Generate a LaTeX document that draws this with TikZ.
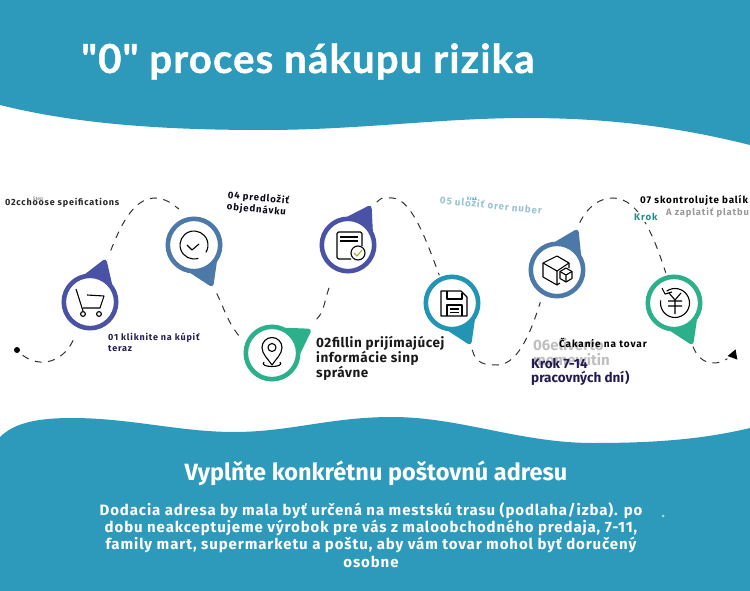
\documentclass[tikz,border=0pt]{standalone}
\usepackage{fontspec}
\setmainfont{Fira Sans}
\newfontfamily\titlefont[LetterSpace=3,BoldFeatures={FakeBold=1}]{Lato}
\newfontfamily\widefont[LetterSpace=9]{Fira Sans}
\newfontfamily\midfont[LetterSpace=4]{Fira Sans}
\newfontfamily\bodyfont[LetterSpace=6]{Fira Sans}
\usetikzlibrary{shapes.geometric}
\definecolor{band}{HTML}{2E9ABB}
\definecolor{pinnavy}{HTML}{4A52A6}
\definecolor{pinsteel}{HTML}{4D79A8}
\definecolor{pingreen}{HTML}{2BB08B}
\definecolor{pinteal}{HTML}{2295B5}
\definecolor{inknavy}{HTML}{241A52}
\definecolor{kroktext}{HTML}{1F8F86}
\begin{document}
\begin{tikzpicture}[x=1pt,y=-1pt,inner sep=0pt,
pin/.style={draw=#1,fill=white,circle,line width=4.6pt,minimum size=52.4pt},
pointer/.style={fill=#1,rounded corners=4pt},
route/.style={draw=black!80,line width=1pt,dash pattern=on 7pt off 6.5pt},
icon/.style={line width=1.1pt,line join=round},
small/.style={font=\widefont\bfseries\fontsize{9}{11.3}\selectfont,align=left,anchor=west,text=inknavy},
big/.style={font=\midfont\bfseries\fontsize{13.5}{15}\selectfont,align=left,anchor=west,text=inknavy}]
\useasboundingbox (0,0) rectangle (750,591);

% bands
\fill[band] (0,0) -- (750,0) -- (750,145) .. controls (670,125) and (600,118) .. (526,118)
  .. controls (440,118) and (360,130) .. (263,130) .. controls (170,130) and (80,125) .. (0,105) -- cycle;
\fill[band] (0,437) .. controls (15,422) and (40,418) .. (72,418) .. controls (130,418) and (180,432) .. (234,432)
  .. controls (290,432) and (330,417) .. (392,417) .. controls (460,417) and (520,443) .. (593,443)
  .. controls (650,443) and (700,440) .. (750,428) -- (750,591) -- (0,591) -- cycle;

\node[font=\titlefont\bfseries\fontsize{40}{42}\selectfont,text=white,anchor=base west] (title) at (81,73) {"0" proces nákupu rizika};
\node[font=\bfseries\fontsize{23.5}{26}\selectfont,text=white] (heading) at (376,473) {Vyplňte konkrétnu poštovnú adresu};
\node[font=\bodyfont\bfseries\fontsize{15}{17.3}\selectfont,text=white,align=center] (body) at (371,535)
 {Dodacia adresa by mala byť určená na mestskú trasu (podlaha/izba). po\\
  dobu neakceptujeme výrobok pre vás z maloobchodného predaja, 7-11,\\
  family mart, supermarketu a poštu, aby vám tovar mohol byť doručený\\
  osobne};
\node[fill=band!40!white,circle,minimum size=3pt] (speck) at (663,516) {};

% pointers go under the rings
\fill[pointer=pinnavy] (90,302) +(-106:27) -- +(-70:47) -- +(-32:27) -- cycle;
\fill[pointer=pinsteel] (194,245) +(30:27) -- +(66:47) -- +(104:27) -- cycle;
\fill[pointer=pinnavy] (348,245) +(-98:27) -- +(-60:47) -- +(-22:27) -- cycle;
\fill[pointer=pingreen] (272,353) +(-70:27) -- +(-31:47) -- +(8:27) -- cycle;
\fill[pointer=pinteal] (452,303) +(30:27) -- +(66:47) -- +(104:27) -- cycle;
\fill[pointer=pinsteel] (557,270) +(-100:27) -- +(-63:47) -- +(-25:27) -- cycle;
\fill[pointer=pingreen] (674,303) +(30:27) -- +(66:47) -- +(104:27) -- cycle;

\node[pin=pinnavy] (cart) at (90,302) {};
\node[pin=pinsteel] (tick) at (194,245) {};
\node[pin=pinnavy] (form) at (348,245) {};
\node[pin=pingreen] (place) at (272,353) {};
\node[pin=pinteal] (disk) at (452,303) {};
\node[pin=pinsteel] (parcel) at (557,270) {};
\node[pin=pingreen] (refund) at (674,303) {};

\node[fill=black,circle,minimum size=6pt] (start) at (17,350) {};
\node[fill=black,regular polygon,regular polygon sides=3,minimum size=12pt,shape border rotate=-20] (finish) at (733.5,355) {};
\coordinate (top1) at (155,198);
\coordinate (top2) at (392,198);
\coordinate (low1) at (497,365);
\coordinate (top3) at (613,198);

% the dashed road
\draw[route,dash phase=9pt,shorten >=11pt] (start) .. controls (35,368) and (62,366) .. (cart);
\draw[route,shorten <=27pt,shorten >=12pt] (cart) .. controls (119,230) and (132,198) .. (top1) .. controls (170,198) and (180,212) .. (tick);
\draw[route,shorten <=25pt,shorten >=6pt] (tick.-65) .. controls (226,313) and (228,323) .. (place.160);
\draw[route,shorten <=28pt,shorten >=15pt] (place.30) .. controls (325,311) and (324,300) .. (form.-115);
\draw[route,shorten <=25pt,shorten >=2pt] (form.70) .. controls (385,195) and (384,198) .. (top2) .. controls (412,198) and (428,245) .. (disk.115);
\draw[route,shorten <=23pt,shorten >=8pt] (disk.-60) .. controls (476,364) and (485,365) .. (low1) .. controls (520,365) and (533,325) .. (parcel.-120);
\draw[route,shorten <=24pt,shorten >=3pt] (parcel.65) .. controls (588,206) and (600,198) .. (top3) .. controls (640,198) and (655,240) .. (refund.105);
\draw[route,shorten <=19pt,shorten >=3pt] (refund.-65) .. controls (699,362) and (712,368) .. (finish);

% icons
\draw[icon] (76,289) -- (83,311) (87,295) -- (104,296) -- (100,308) -- (83,308);
\draw[icon] (83,314) circle[radius=2.4] (99,314) circle[radius=2.4];
\draw[icon] (194,245) ++(72:14) arc (72:392:14);
\draw[icon] (187,245) -- (192,250) -- (199,244);
\draw[icon,rounded corners=1.5pt] (351,259) -- (337,259) -- (337,232) -- (362,232) -- (362,246);
\draw[icon] (340,237) -- (358,237) (340,241) -- (358,241);
\draw[icon] (358,253) circle[radius=7];
\draw[icon,olive!70] (354,253) -- (357,256) -- (362,250);
\draw[icon] (272,365) .. controls (268,359) and (262,354) .. (262,347.5) arc (180:360:10) .. controls (282,354) and (276,359) .. (272,365) -- cycle;
\draw[icon] (272,347.5) circle[radius=4];
\draw[icon] (264,362) .. controls (258,368) and (286,368) .. (280,362);
\draw[icon] (441,291) -- (461,291) -- (467,297) -- (467,316) -- (441,316) -- cycle;
\draw[icon] (447,291) -- (447,299) -- (462,299) -- (462,293);
\draw[icon] (447,316) -- (447,305) -- (462,305) -- (462,316);
\draw[icon] (450,309) -- (459,309) (450,312.5) -- (459,312.5);
\draw[icon] (557,256) -- (569,263) -- (557,271) -- (543,263) -- cycle;
\draw[icon] (543,263) -- (543,277) -- (557,285) -- (557,271) (569,263) -- (569,268) (557,285) -- (560,283);
\draw[icon] (566,268) -- (572,271.5) -- (572,278.5) -- (566,282) -- (560,278.5) -- (560,271.5) -- cycle;
\draw[icon] (560,271.5) -- (566,275) -- (572,271.5) (566,275) -- (566,282);
\draw[icon] (675,303) ++(-125:14.5) arc (-125:190:14.5);
\draw[icon] (662,288) -- (665,294) -- (672,292);
\draw[icon] (669,293) -- (675,300) -- (681,293) (675,300) -- (675,314) (668,301) -- (682,301) (668,306) -- (682,306);

% labels
\node[small,text=black!85] (lab1) at (5,203) {02cchoose speifications};
\node[font=\fontsize{5}{6}\selectfont,text=black!60] (lab1a) at (38,199) {Step};
\node[small] (lab2) at (108,342.5) {01 kliknite na kúpiť\\teraz};
\node[small,rotate=-5,text=black!70!inknavy,anchor=center,font=\widefont\bfseries\fontsize{9.6}{11.6}\selectfont] (lab3) at (258,204) {04 predložiť\\objednávku};
\node[big,text=black!90] (lab4) at (316,358) {02fillin prijímajúcej\\informácie sinp\\správne};
\node[small,rotate=-6,text=pinteal!45!white!85!gray,anchor=center,font=\widefont\bfseries\fontsize{9.8}{11}\selectfont] (lab5) at (491,205) {05 uložiť orer nuber};
\node[font=\fontsize{5}{6}\selectfont,text=pinteal] (lab5a) at (472,199) {Krok};
\node[font=\bfseries\fontsize{15}{15.5}\selectfont,text=black!25,align=left,anchor=west] (lab6) at (533,352) {06eliverto\\momewitin};
\node[small,text=black,font=\widefont\bfseries\fontsize{10}{11}\selectfont] (lab6a) at (559,343) {Čakanie na tovar};
\node[big,anchor=north west,font=\bfseries\fontsize{13.5}{14.5}\selectfont] (lab6b) at (531,358) {Krok 7-14\\pracovných dní)};
\node[small,text=black,font=\widefont\bfseries\fontsize{9.8}{11}\selectfont] (lab7) at (640,200) {07 skontrolujte balík};
\node[small,text=black!40,font=\widefont\bfseries\fontsize{9.4}{11}\selectfont] (lab7a) at (666,213) {A zaplatiť platbu};
\node[small,text=kroktext,fill=white,inner sep=1.5pt,font=\widefont\bfseries\fontsize{9.6}{11}\selectfont] (lab7b) at (632.5,217) {Krok};
\end{tikzpicture}
\end{document}
